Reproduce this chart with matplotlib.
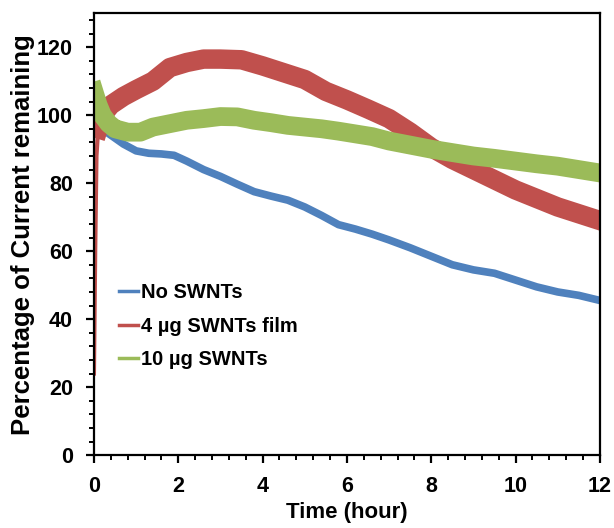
import numpy as np
import matplotlib.pyplot as plt
from matplotlib.ticker import MultipleLocator

plt.rcParams['font.family'] = ['Liberation Sans', 'DejaVu Sans']
plt.rcParams['font.weight'] = 'bold'

# values (time in hours, % of current remaining)
t_blue = [0, 0.3, 0.7, 1.0, 1.3, 1.6, 1.9, 2.2, 2.6, 3.0, 3.4, 3.8, 4.2, 4.6, 5.0,
          5.4, 5.8, 6.2, 6.6, 7.0, 7.5, 8.0, 8.5, 9.0, 9.5, 10.0, 10.5, 11.0, 11.5, 12.0]
no_swnt = [98.5, 95, 91.5, 89.5, 88.8, 88.6, 88.2, 86.5, 84, 82, 79.7, 77.5, 76.2, 75, 73,
           70.5, 67.8, 66.5, 65, 63.3, 61, 58.5, 56, 54.5, 53.5, 51.5, 49.5, 48, 47, 45.5]

t_red = [0, 0.03, 0.06, 0.1, 0.2, 0.4, 0.7, 1.0, 1.4, 1.8, 2.2, 2.6, 3.0, 3.5, 4.0,
         4.5, 5.0, 5.5, 6.0, 6.5, 7.0, 7.5, 8.0, 8.5, 9.0, 9.5, 10.0, 10.5, 11.0, 11.5, 12.0]
film_4ug = [24, 60, 88, 96, 100, 103, 105.5, 107.5, 110, 114, 115.5, 116.5, 116.5, 116.3, 114.5,
            112.5, 110.5, 107, 104.5, 101.8, 99, 95, 90.5, 87, 84, 81, 78, 75.5, 73, 71, 69]

t_green = [0, 0.1, 0.2, 0.35, 0.5, 0.8, 1.1, 1.4, 1.8, 2.2, 2.6, 3.0, 3.4, 3.8, 4.2, 4.6,
           5.0, 5.4, 5.8, 6.2, 6.6, 7.0, 7.5, 8.0, 8.5, 9.0, 9.5, 10.0, 10.5, 11.0, 11.5, 12.0]
swnt_10ug = [107, 103, 100, 97.5, 96, 95, 95, 96.5, 97.5, 98.5, 99, 99.6, 99.5, 98.5, 97.8, 97,
             96.5, 96, 95.3, 94.5, 93.7, 92.4, 91.2, 90, 89, 88, 87.3, 86.5, 85.7, 85, 84, 83]

labels = ['No SWNTs', '4 \u00b5g SWNTs film', '10 \u00b5g SWNTs']
colors = ['#4F81BD', '#C0504D', '#9BBB59']

fig = plt.figure(figsize=(6.14, 5.28), dpi=100)
ax = fig.add_axes([0.153, 0.138, 0.824, 0.837])

ax.plot(t_blue, no_swnt, color=colors[0], lw=5.5, label=labels[0], solid_joinstyle='round')
# steep rise at the start is thinner than the noisy band
ax.plot(t_red[:4], film_4ug[:4], color=colors[1], lw=3)
ax.plot(t_red[3:], film_4ug[3:], color=colors[1], lw=14, label=labels[1], solid_joinstyle='round')
ax.plot(t_green, swnt_10ug, color=colors[2], lw=13.5, label=labels[2], solid_joinstyle='round')

ax.set_xlim(0, 12)
ax.set_ylim(0, 130)
ax.xaxis.set_major_locator(MultipleLocator(2))
ax.xaxis.set_minor_locator(MultipleLocator(0.4))
ax.yaxis.set_major_locator(MultipleLocator(20))
ax.yaxis.set_minor_locator(MultipleLocator(4))
ax.tick_params(which='major', direction='out', length=6, width=1.6, labelsize=15.5, pad=9)
ax.tick_params(which='minor', direction='out', length=3.5, width=1.4)
for lab in ax.get_xticklabels() + ax.get_yticklabels():
    lab.set_fontweight('bold')
for s in ax.spines.values():
    s.set_linewidth(1.6)

ax.set_xlabel('Time (hour)', fontsize=16, fontweight='bold')
ax.set_ylabel('Percentage of Current remaining', fontsize=18.5, fontweight='bold')
ax.xaxis.set_label_coords(0.5, -0.107)
ax.yaxis.set_label_coords(-0.117, 0.5)

leg = ax.legend(loc='center left', bbox_to_anchor=(0.049, 0.292), frameon=False,
                fontsize=14.5, handlelength=0.95, handletextpad=0.15, labelspacing=0.7,
                borderpad=0, borderaxespad=0)
for ln in leg.get_lines():
    ln.set_linewidth(2.5)
for txt in leg.get_texts():
    txt.set_fontweight('bold')

plt.savefig('out.png', dpi=100)
